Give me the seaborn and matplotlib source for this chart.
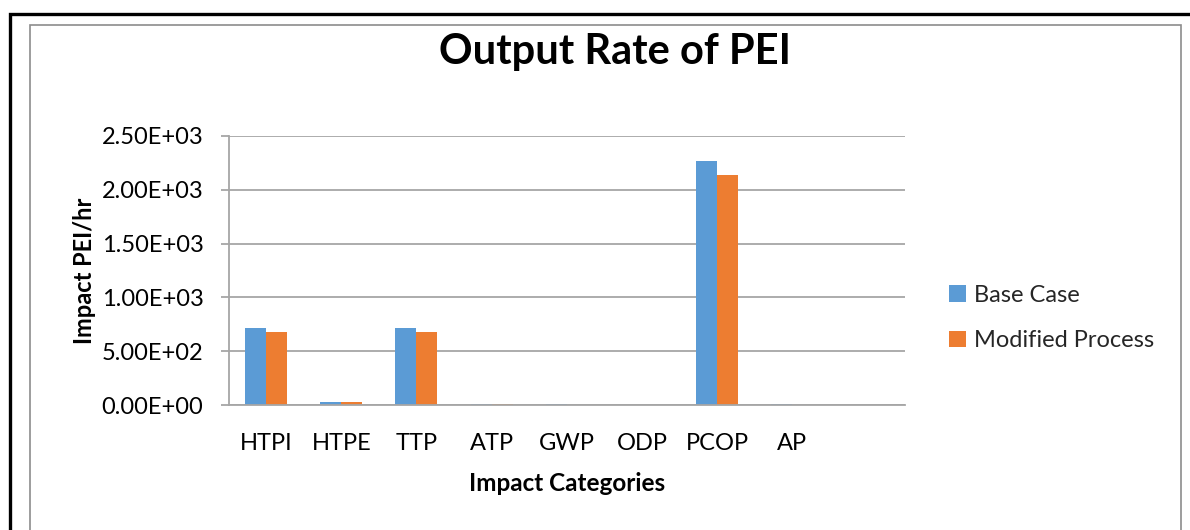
import matplotlib
matplotlib.use("Agg")
import matplotlib.pyplot as plt
import matplotlib.patches as mpatches
from matplotlib.ticker import FuncFormatter, MultipleLocator
import seaborn as sns
import pandas as pd

categories = ["HTPI", "HTPE", "TTP", "ATP", "GWP", "ODP", "PCOP", "AP"]
base_case = [713, 25, 713, 6, 5, 0, 2267, 5]
modified_process = [682, 24, 682, 5, 4, 0, 2133, 4]
series_names = ["Base Case", "Modified Process"]
colors = ["#5B9BD5", "#ED7D31"]

df = pd.DataFrame({
    "cat": categories * 2,
    "val": base_case + modified_process,
    "series": [series_names[0]] * len(categories) + [series_names[1]] * len(categories),
})

sns.set_theme(style="white")
FONT = ["Lato", "DejaVu Sans"]
plt.rcParams["font.family"] = FONT

W, H = 1190, 530
fig = plt.figure(figsize=(W / 100, H / 100), dpi=100)
ax = fig.add_axes([228.5 / W, 1 - 405 / H, (905 - 228.5) / W, (405 - 136) / H])

sns.barplot(data=df, x="cat", y="val", hue="series", order=categories,
            hue_order=series_names, palette=colors, width=0.56, saturation=1,
            errorbar=None, ax=ax, legend=True, linewidth=0)

ax.set_xlim(-0.5, 8.5)
ax.set_ylim(0, 2500)
ax.yaxis.set_major_locator(MultipleLocator(500))
ax.yaxis.set_major_formatter(FuncFormatter(lambda v, p: f"{v:.2E}"))
ax.grid(axis="y", color="#A6A6A6", linewidth=1.3)
ax.set_axisbelow(True)
for s in ["top", "right"]:
    ax.spines[s].set_visible(False)
ax.spines["left"].set_color("#A6A6A6")
ax.spines["left"].set_linewidth(1.3)
ax.spines["bottom"].set_color("#A6A6A6")
ax.spines["bottom"].set_linewidth(1.3)
ax.tick_params(axis="y", which="major", left=True, length=6, color="#A6A6A6",
               width=1.3, labelsize=17, pad=12, labelcolor="black")
ax.tick_params(axis="x", bottom=False, labelsize=17, pad=14, labelcolor="black")

ax.set_xlabel("Impact Categories", fontsize=17.5, fontweight="bold", labelpad=13, color="black")
ax.set_ylabel("Impact PEI/hr", fontsize=17, fontweight="bold", labelpad=4, color="black")

leg = ax.legend(loc="center left", bbox_to_anchor=(928 / W, 1 - 318 / H),
                bbox_transform=fig.transFigure, frameon=False, fontsize=17,
                handlelength=0.7, handleheight=0.7, handletextpad=0.35,
                labelspacing=1.05, title=None)

fig.text(615 / W, 1 - 52 / H, "Output Rate of PEI", ha="center", va="center",
         fontsize=30, fontweight="bold", color="black")

# chart borders
fig.patches.append(mpatches.Rectangle((9.5 / W, -0.1), 1.2, 1 - 13.5 / H + 0.1,
                   transform=fig.transFigure, fill=False, edgecolor="black",
                   linewidth=2.4, zorder=10))
fig.patches.append(mpatches.Rectangle((30 / W, -0.1), (1181 - 30) / W, 1 - 24.5 / H + 0.1,
                   transform=fig.transFigure, fill=False, edgecolor="#8C8C8C",
                   linewidth=1.2, zorder=10))

fig.savefig("out.png", dpi=100)
